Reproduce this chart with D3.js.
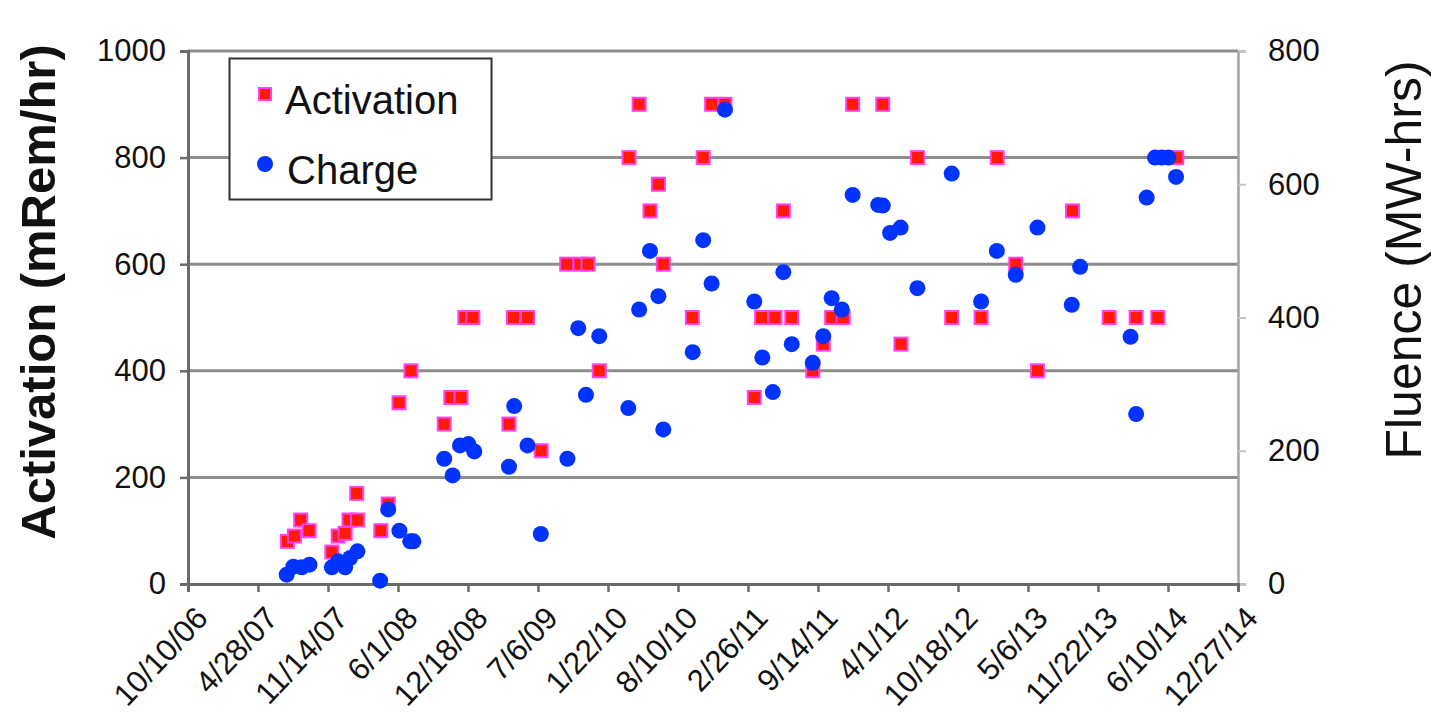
<!DOCTYPE html>
<html>
<head>
<meta charset="utf-8">
<script src="https://cdn.jsdelivr.net/npm/d3@7"></script>
<style>
  html, body { margin: 0; padding: 0; background: #ffffff; }
  svg { display: block; font-family: "Liberation Sans", Arial, sans-serif; }
</style>
</head>
<body>
<svg id="chart" width="1433" height="718"></svg>
<script>
// Activation survey readings (mRem/hr)
const activationDates = [
  "2007-07-21","2007-08-10","2007-08-28","2007-09-21","2007-11-25","2007-12-13",
  "2008-01-02","2008-01-13","2008-02-06","2008-02-04","2008-04-13","2008-05-04",
  "2008-06-04","2008-07-08","2008-10-11","2008-10-30","2008-11-28","2008-12-09",
  "2009-01-01","2009-04-14","2009-04-27","2009-06-06","2009-07-15","2009-09-26",
  "2009-11-03","2009-11-26","2009-12-28","2010-03-23","2010-04-21","2010-05-22",
  "2010-06-15","2010-06-29","2010-09-20","2010-10-21","2010-11-14","2010-12-22",
  "2011-03-16","2011-04-06","2011-05-14","2011-06-07","2011-07-01","2011-08-30",
  "2011-09-29","2011-10-23","2011-11-25","2011-12-22","2012-03-17","2012-05-08",
  "2012-06-24","2012-09-30","2012-12-23","2013-02-07","2013-04-01","2013-06-02",
  "2013-09-10","2013-12-24","2014-03-11","2014-05-12","2014-07-05"
];
const activationValues = [
  80, 90, 120, 100, 60, 90,
  95, 120, 120, 170, 100, 150,
  340, 400, 300, 350, 350, 500,
  500, 300, 500, 500, 250, 600,
  600, 600, 400, 800, 900, 700,
  750, 600, 500, 800, 900, 900,
  350, 500, 500, 700, 500, 400,
  450, 500, 500, 900, 900, 450,
  800, 500, 500, 800, 600, 400,
  700, 500, 500, 500, 800
];

// Accumulated charge (MW-hrs)
const chargeDates = [
  "2007-07-19","2007-08-07","2007-08-31","2007-09-22","2007-11-25","2007-12-13",
  "2008-01-02","2008-01-16","2008-02-06","2008-04-11","2008-05-04","2008-06-05",
  "2008-07-06","2008-07-15","2008-10-11","2008-11-04","2008-11-25","2008-12-19",
  "2009-01-05","2009-04-14","2009-04-29","2009-06-06","2009-07-14","2009-09-28",
  "2009-10-29","2009-11-20","2009-12-28","2010-03-21","2010-04-21","2010-05-22",
  "2010-06-15","2010-06-29","2010-09-21","2010-10-21","2010-11-14","2010-12-22",
  "2011-03-16","2011-04-08","2011-05-08","2011-06-07","2011-07-01","2011-08-30",
  "2011-09-29","2011-10-23","2011-11-21","2011-12-22","2012-03-04","2012-03-17",
  "2012-04-07","2012-05-07","2012-06-24","2012-09-30","2012-12-23","2013-02-06",
  "2013-04-01","2013-06-02","2013-09-08","2013-10-02","2014-02-23","2014-03-11",
  "2014-04-10","2014-05-04","2014-05-23","2014-06-11","2014-07-03"
];
const chargeValues = [
  14, 26, 25, 29, 25, 34,
  25, 39, 49, 5, 112, 80,
  64, 64, 188, 163, 208, 210,
  199, 176, 267, 208, 75, 188,
  384, 284, 372, 264, 412, 500,
  432, 232, 348, 516, 451, 712,
  424, 340, 288, 468, 360, 332,
  372, 429, 412, 584, 569, 568,
  527, 535, 444, 616, 424, 500,
  464, 535, 419, 476, 371, 255,
  580, 640, 640, 640, 611
];

// Axis ticks
const dateTickLabels = [
  "10/10/06","4/28/07","11/14/07","6/1/08","12/18/08","7/6/09","1/22/10","8/10/10",
  "2/26/11","9/14/11","4/1/12","10/18/12","5/6/13","11/22/13","6/10/14","12/27/14"
];
const activationTicks = [0, 200, 400, 600, 800, 1000];
const chargeTicks = [0, 200, 400, 600, 800];

const parseISO = d3.utcParse("%Y-%m-%d");
const parseTick = d3.utcParse("%m/%d/%y");
const fmtTick = d3.utcFormat("%-m/%-d/%y");
const tickDates = dateTickLabels.map(parseTick);

const svg = d3.select("#chart");
const plot = { left: 188, right: 1238, top: 51, bottom: 584 };

const x = d3.scaleUtc()
  .domain([tickDates[0], tickDates[tickDates.length - 1]])
  .range([plot.left, plot.right]);
const yLeft = d3.scaleLinear().domain([0, 1000]).range([plot.bottom, plot.top]);
const yRight = d3.scaleLinear().domain([0, 800]).range([plot.bottom, plot.top]);

const gridColor = "#8d8d8d";
const axisColor = "#6a6a6a";

// horizontal gridlines
svg.append("g")
  .selectAll("line")
  .data(activationTicks.filter(d => d > 0))
  .join("line")
  .attr("x1", plot.left).attr("x2", plot.right)
  .attr("y1", d => yLeft(d)).attr("y2", d => yLeft(d))
  .attr("stroke", gridColor).attr("stroke-width", 3);

// left axis
const leftAxis = svg.append("g")
  .attr("transform", `translate(${plot.left},0)`)
  .call(d3.axisLeft(yLeft).tickValues(activationTicks).tickFormat(d3.format("d"))
    .tickSize(8).tickPadding(14));
leftAxis.select(".domain").attr("stroke", axisColor).attr("stroke-width", 3);
leftAxis.selectAll(".tick line").attr("stroke", axisColor).attr("stroke-width", 2.5);
leftAxis.selectAll(".tick text")
  .attr("font-size", 31).attr("fill", "#111").attr("font-family", "Liberation Sans, Arial, sans-serif");

// right axis
const rightAxis = svg.append("g")
  .attr("transform", `translate(${plot.right},0)`)
  .call(d3.axisRight(yRight).tickValues(chargeTicks).tickFormat(d3.format("d"))
    .tickSize(8).tickPadding(22));
rightAxis.select(".domain").attr("stroke", "#a3a3a3").attr("stroke-width", 2.5);
rightAxis.selectAll(".tick line").attr("stroke", "#c4c4c4").attr("stroke-width", 2);
rightAxis.selectAll(".tick text")
  .attr("font-size", 31).attr("fill", "#111").attr("font-family", "Liberation Sans, Arial, sans-serif");

// bottom date axis
const bottomAxis = svg.append("g")
  .attr("transform", `translate(0,${plot.bottom})`)
  .call(d3.axisBottom(x).tickValues(tickDates).tickFormat(fmtTick).tickSize(8));
bottomAxis.select(".domain").attr("stroke", axisColor).attr("stroke-width", 3);
bottomAxis.selectAll(".tick line").attr("stroke", axisColor).attr("stroke-width", 2.5);
bottomAxis.selectAll(".tick text")
  .attr("font-size", 31).attr("fill", "#111")
  .attr("font-family", "Liberation Sans, Arial, sans-serif")
  .attr("text-anchor", "end")
  .attr("dy", 0)
  .attr("transform", "translate(13,28) rotate(-47)");

// activation markers: red squares with magenta rim
const sq = 13;
svg.append("g")
  .selectAll("rect")
  .data(activationDates.map((d, i) => ({ date: parseISO(d), value: activationValues[i] })))
  .join("rect")
  .attr("x", d => x(d.date) - sq / 2)
  .attr("y", d => yLeft(d.value) - sq / 2)
  .attr("width", sq).attr("height", sq)
  .attr("fill", "#ff1a00")
  .attr("stroke", "#ff40ff").attr("stroke-width", 2);

// charge markers: blue dots
svg.append("g")
  .selectAll("circle")
  .data(chargeDates.map((d, i) => ({ date: parseISO(d), value: chargeValues[i] })))
  .join("circle")
  .attr("cx", d => x(d.date))
  .attr("cy", d => yRight(d.value))
  .attr("r", 8)
  .attr("fill", "#0033ff");

// axis titles
svg.append("text")
  .attr("transform", "translate(55,292) rotate(-90)")
  .attr("text-anchor", "middle")
  .attr("font-size", 49).attr("font-weight", "bold").attr("fill", "#111")
  .text("Activation (mRem/hr)");

svg.append("text")
  .attr("transform", "translate(1421,260) rotate(-90)")
  .attr("text-anchor", "middle")
  .attr("font-size", 50).attr("fill", "#111")
  .text("Fluence (MW-hrs)");

// legend
const legend = svg.append("g");
legend.append("rect")
  .attr("x", 229.5).attr("y", 58.5).attr("width", 262).attr("height", 141)
  .attr("fill", "#ffffff").attr("stroke", "#333").attr("stroke-width", 2);
legend.append("rect")
  .attr("x", 265 - 6).attr("y", 94 - 6).attr("width", 12).attr("height", 12)
  .attr("fill", "#ff1a00").attr("stroke", "#ff40ff").attr("stroke-width", 2);
legend.append("circle")
  .attr("cx", 265).attr("cy", 164).attr("r", 8).attr("fill", "#0033ff");
legend.append("text")
  .attr("x", 285).attr("y", 114).attr("font-size", 40).attr("fill", "#111")
  .text("Activation");
legend.append("text")
  .attr("x", 287).attr("y", 184).attr("font-size", 40).attr("fill", "#111")
  .text("Charge");
</script>
</body>
</html>
